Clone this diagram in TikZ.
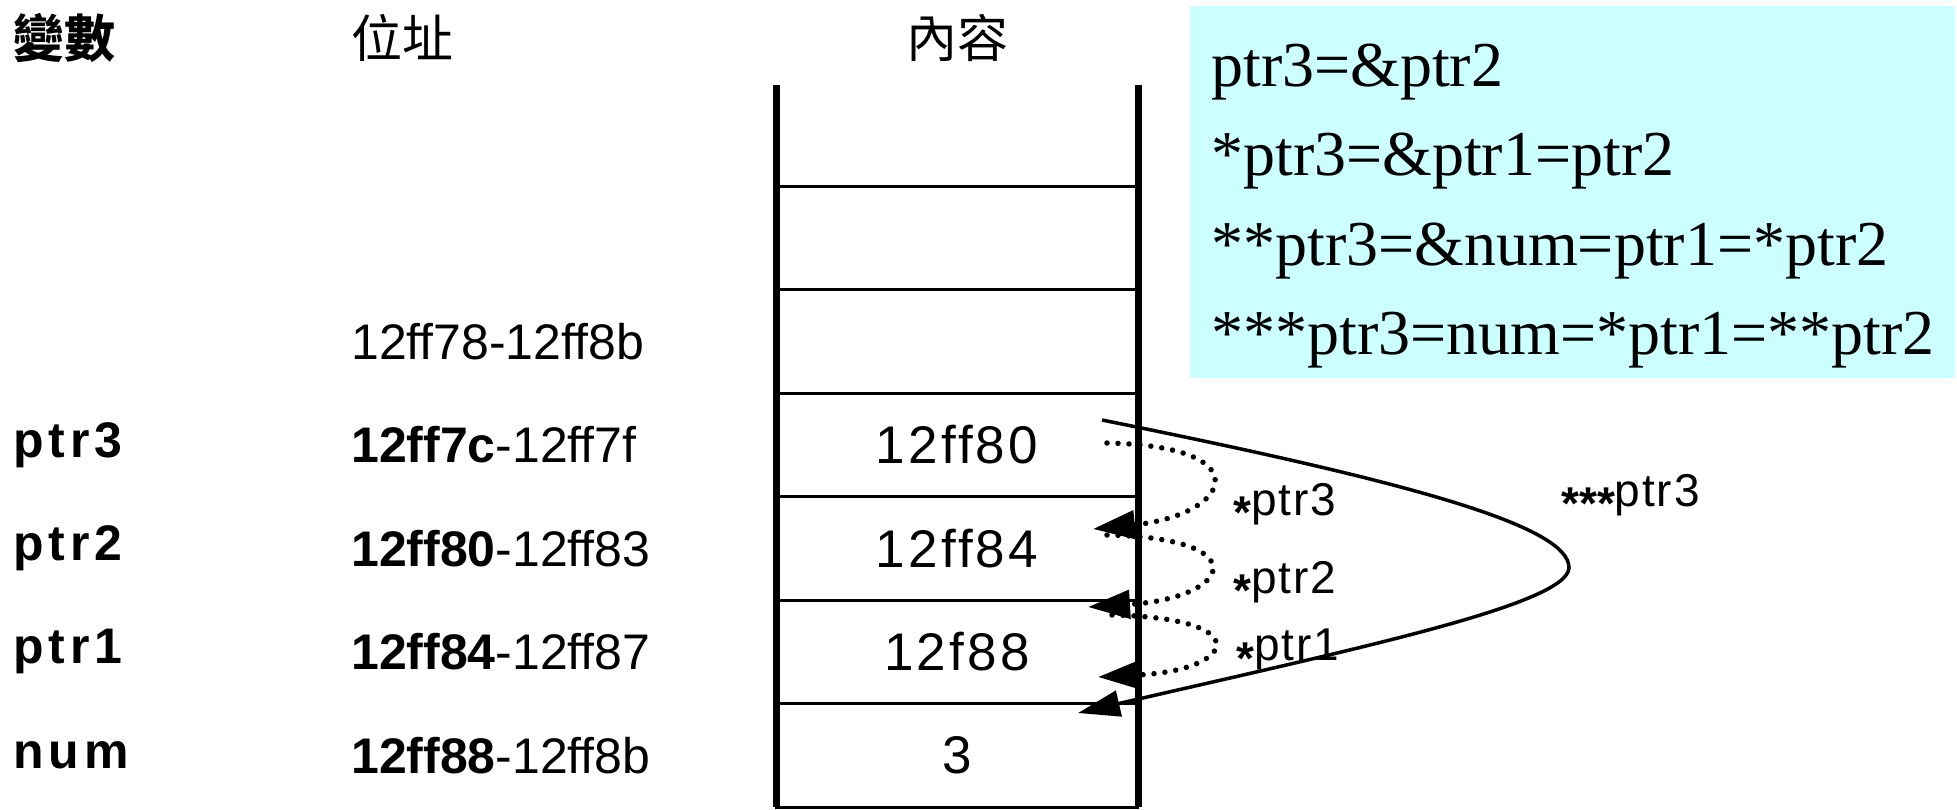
\documentclass[tikz,border=0pt]{standalone}
\usepackage{fontspec}
\setmainfont{Liberation Sans}
\newfontfamily\boxfont{Liberation Serif}
\newfontfamily\cjkfont{Noto Sans CJK TC}
\newfontfamily\varfont[LetterSpace=10]{Liberation Sans}
\newfontfamily\cellfont[LetterSpace=6]{Liberation Sans}
\newfontfamily\labelfont[LetterSpace=4]{Liberation Sans}
\usetikzlibrary{arrows.meta, positioning, calc}
\definecolor{boxcyan}{RGB}{204,255,255}
\newcommand{\lowstar}{\raisebox{-0.3em}{\bfseries *}}

\begin{document}
\begin{tikzpicture}[
    x=1pt, y=-1pt,
    cell/.style={rectangle, draw, line width=3pt, minimum width=361pt,
                 minimum height=103.5pt, inner sep=0pt, outer sep=0pt,
                 font=\cellfont\fontsize{53}{60}\selectfont},
    wall/.style={line width=7pt},
    head/.style={inner sep=0pt, font=\cjkfont\fontsize{51}{55}\selectfont},
    varname/.style={anchor=west, inner sep=0pt,
                    font=\varfont\bfseries\fontsize{50}{56}\selectfont},
    addr/.style={anchor=west, inner sep=0pt, font=\fontsize{50}{56}\selectfont},
    eqline/.style={anchor=base west, inner sep=0pt,
                   font=\boxfont\fontsize{64}{72}\selectfont},
    ptrlabel/.style={anchor=west, inner sep=0pt,
                     font=\labelfont\fontsize{46}{50}\selectfont},
    deref/.style={line width=5.5pt, dash pattern=on 0pt off 11pt, line cap=round,
                  -{Triangle[length=42pt, width=28pt]}},
    tripleptr/.style={line width=3.5pt, -{Triangle[length=42pt, width=26pt]}}
]
    \useasboundingbox (0,0) rectangle (1957,809);

    % Expression box
    \node[fill=boxcyan, anchor=north west, inner sep=0pt,
          minimum width=765pt, minimum height=372pt] (eqbox) at (1190,6) {};
    \node[eqline] (eq1) at (1211,86) {ptr3=\&ptr2};
    \node[eqline] (eq2) at (1211,175) {*ptr3=\&ptr1=ptr2};
    \node[eqline] (eq3) at (1211,265) {**ptr3=\&num=ptr1=*ptr2};
    \node[eqline] (eq4) at (1211,354) {***ptr3=num=*ptr1=**ptr2};

    % Memory cells
    \node[cell] (c0) at (957,237.75) {};
    \node[cell, below=0pt of c0] (c1) {};
    \node[cell, below=0pt of c1] (c2) {12ff80};
    \node[cell, below=0pt of c2] (c3) {12ff84};
    \node[cell, below=0pt of c3] (c4) {12f88};
    \node[cell, below=0pt of c4] (c5) {3};

    \coordinate (topL) at (776.5,85);
    \coordinate (topR) at (1138.5,85);
    \draw[wall] (topL) -- (topL |- c5.south);
    \draw[wall] (topR) -- (topR |- c5.south);

    % Headings
    \coordinate (hrow) at (0,38);
    \node[head, anchor=west] (hvar) at (13,38) {\bfseries 變數};
    \node[head, anchor=west] (haddr) at (351,38) {位址};
    \node[head] (hval) at (c0 |- hrow) {內容};

    % Addresses
    \node[addr] (a1) at (haddr.west |- c1) {12ff78-12ff8b};
    \node[addr] (a2) at (haddr.west |- c2) {\bfseries 12ff7c\mdseries-12ff7f};
    \node[addr] (a3) at (haddr.west |- c3) {\bfseries 12ff80\mdseries-12ff83};
    \node[addr] (a4) at (haddr.west |- c4) {\bfseries 12ff84\mdseries-12ff87};
    \node[addr] (a5) at (haddr.west |- c5) {\bfseries 12ff88\mdseries-12ff8b};

    % Variables
    \node[varname] (v2) at (hvar.west |- c2) {ptr3};
    \node[varname] (v3) at (hvar.west |- c3) {ptr2};
    \node[varname] (v4) at (hvar.west |- c4) {ptr1};
    \node[varname] (v5) at (hvar.west |- c5) {num};

    % Pointer labels
    \node[ptrlabel] (l3) at (1233,506) {\lowstar ptr3};
    \node[ptrlabel] (l2) at (1233,584) {\lowstar ptr2};
    \node[ptrlabel] (l1) at (1236,652) {\lowstar ptr1};
    \node[ptrlabel] (l0) at (1561,497) {\lowstar\lowstar\lowstar ptr3};

    % Arrows
    \coordinate (d3s) at (1107,443);
    \coordinate (d3e) at (1093,529);
    \coordinate (d2s) at (1107,535);
    \coordinate (d2e) at (1088,607);
    \coordinate (d1s) at (1112,615);
    \coordinate (d1e) at (1098,677);
    \coordinate (t3s) at (1102,420);
    \coordinate (t3e) at (1078,713);

    \draw[deref] (d3s) .. controls (1262,446) and (1232,515) .. (d3e);
    \draw[deref] (d2s) .. controls (1258,538) and (1232,598) .. (d2e);
    \draw[deref] (d1s) .. controls (1258,618) and (1236,670) .. (d1e);
    \draw[tripleptr] (t3s) .. controls (1400,480) and (1570,525) .. (1569,568)
        .. controls (1567,605) and (1350,650) .. (t3e);
\end{tikzpicture}
\end{document}
